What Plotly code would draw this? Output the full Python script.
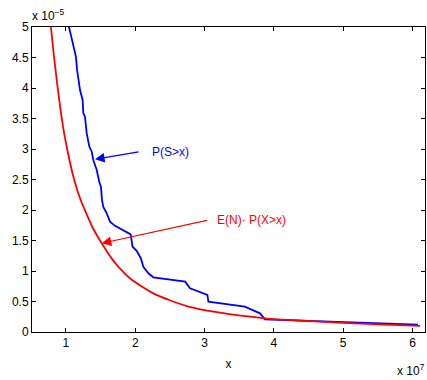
import plotly.graph_objects as go

# x in units of 1e7, y in units of 1e-5
blue_x = [1.03, 1.043, 1.075, 1.106, 1.144, 1.16, 1.178, 1.202, 1.241, 1.25, 1.274, 1.299,
          1.337, 1.371, 1.394, 1.443, 1.481, 1.505, 1.52, 1.539, 1.588, 1.635, 1.708, 1.804,
          1.934, 1.96, 2.02, 2.08, 2.116, 2.19, 2.26, 2.72, 2.79, 3.04, 3.055, 3.58, 3.80,
          3.87, 4.5, 5.0, 5.5, 6.08]
blue_y = [5.25, 5.0, 4.85, 4.68, 4.51, 4.3, 4.13, 3.97, 3.80, 3.59, 3.53, 3.26,
          3.04, 2.96, 2.82, 2.66, 2.46, 2.38, 2.16, 2.05, 1.946, 1.81, 1.74, 1.68,
          1.60, 1.40, 1.33, 1.21, 1.07, 0.962, 0.897, 0.825, 0.716, 0.607, 0.497, 0.415, 0.306,
          0.208, 0.185, 0.165, 0.145, 0.12]

red_x = [0.74, 0.783, 0.87, 0.96, 1.03, 1.106, 1.2, 1.299, 1.4, 1.516, 1.683, 1.78, 1.92,
         2.1, 2.26, 2.5, 2.74, 3.2, 3.87, 4.5, 5.0, 5.5, 6.11]
red_y = [5.6, 5.0, 4.1, 3.35, 2.93, 2.55, 2.2, 1.93, 1.68, 1.454, 1.17, 1.04, 0.885,
         0.74, 0.634, 0.52, 0.426, 0.32, 0.224, 0.18, 0.15, 0.125, 0.10]

x_ticks = [1, 2, 3, 4, 5, 6]
x_ticklabels = ["1", "2", "3", "4", "5", "6"]
y_ticks = [0, 0.5, 1, 1.5, 2, 2.5, 3, 3.5, 4, 4.5, 5]
y_ticklabels = ["0", "0.5", "1", "1.5", "2", "2.5", "3", "3.5", "4", "4.5", "5"]

FONT = "Liberation Sans, Arial, sans-serif"

fig = go.Figure()
fig.add_trace(go.Scatter(x=blue_x, y=blue_y, mode="lines",
                         line=dict(color="#0000ff", width=1.8), showlegend=False))
fig.add_trace(go.Scatter(x=red_x, y=red_y, mode="lines",
                         line=dict(color="#ff0000", width=1.8, shape="spline", smoothing=0.8),
                         showlegend=False))

# arrows
fig.add_annotation(x=1.419, y=2.831, ax=2.069, ay=2.956, xref="x", yref="y",
                   axref="x", ayref="y", text="", showarrow=True,
                   arrowhead=2, arrowsize=1.6, arrowwidth=1.2, arrowcolor="#0000ff")
fig.add_annotation(x=1.516, y=1.454, ax=3.055, ay=1.836, xref="x", yref="y",
                   axref="x", ayref="y", text="", showarrow=True,
                   arrowhead=2, arrowsize=1.6, arrowwidth=1.2, arrowcolor="#ff0000")
fig.add_annotation(x=2.213, y=2.956, xref="x", yref="y", text="P(S>x)", showarrow=False,
                   xanchor="left", yanchor="middle",
                   font=dict(family=FONT, size=12, color="#0000ff"))
fig.add_annotation(x=3.15, y=1.836, xref="x", yref="y", text="E(N)· P(X>x)", showarrow=False,
                   xanchor="left", yanchor="middle",
                   font=dict(family=FONT, size=12, color="#ff0000"))

# exponent labels
fig.add_annotation(x=0, y=1, xref="paper", yref="paper", text="x 10<sup>−5</sup>",
                   showarrow=False, xanchor="left", yanchor="bottom", yshift=2, xshift=-2,
                   font=dict(family=FONT, size=12, color="black"))
fig.add_annotation(x=1, y=0, xref="paper", yref="paper", text="x 10<sup>7</sup>",
                   showarrow=False, xanchor="right", yanchor="top", yshift=-28, xshift=2,
                   font=dict(family=FONT, size=12, color="black"))

axis_common = dict(showline=True, linecolor="black", linewidth=1, mirror="ticks",
                   ticks="inside", ticklen=4, tickcolor="black", showgrid=False,
                   zeroline=False, tickfont=dict(family=FONT, size=12, color="black"))

fig.update_xaxes(range=[0.51, 6.18], tickvals=x_ticks, ticktext=x_ticklabels,
                 title=dict(text="x", font=dict(family=FONT, size=12, color="black"), standoff=10),
                 **axis_common)
fig.update_yaxes(range=[0, 5], tickvals=y_ticks, ticktext=y_ticklabels, **axis_common)

fig.update_layout(width=427, height=380, margin=dict(l=32, r=2, t=27, b=48),
                  paper_bgcolor="white", plot_bgcolor="white",
                  font=dict(family=FONT, size=12, color="black"))

fig.write_html("out.html")
